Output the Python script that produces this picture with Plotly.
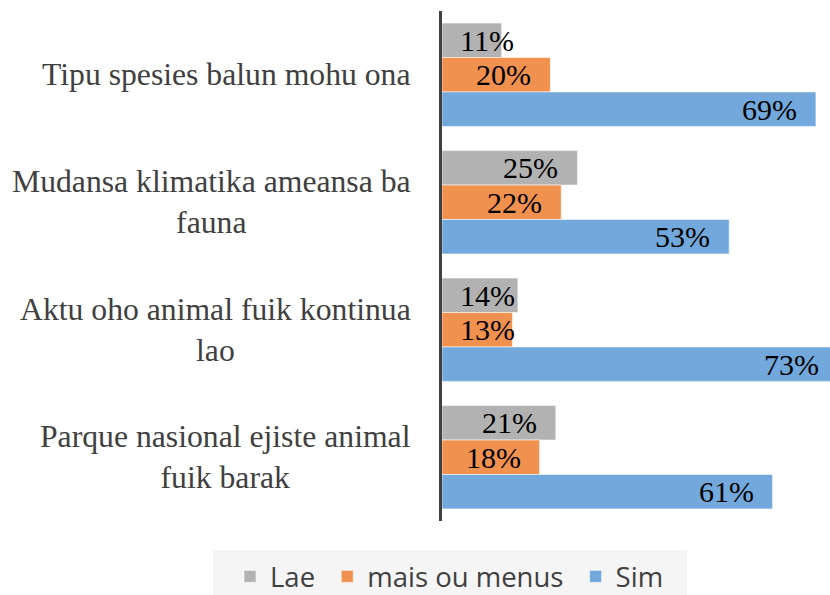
import plotly.graph_objects as go

categories = [
    "Tipu spesies balun mohu ona",
    "Mudansa klimatika ameansa ba<br>fauna",
    "Aktu oho animal fuik kontinua<br>lao",
    "Parque nasional ejiste animal<br>fuik barak",
]
series_names = ["Lae", "mais ou menus", "Sim"]
lae = [11, 25, 14, 21]
mais_ou_menus = [20, 22, 13, 18]
sim = [69, 53, 73, 61]

colors = ["#B2B2B2", "#F0914F", "#72A8DB"]
serif = "Liberation Serif, Times New Roman, serif"

bargap = 0.19
x_max = 71.6
plot_l = 442
plot_w = 388
plot_h = 510
px_per_unit = plot_w / x_max

fig = go.Figure()
for name, vals, col in zip(series_names, [lae, mais_ou_menus, sim], colors):
    fig.add_trace(go.Bar(
        name=name + "\u00a0", y=categories, x=vals, orientation="h",
        marker=dict(color=col, line=dict(color="rgba(255,255,255,0.55)", width=1)),
        hoverinfo="skip",
    ))

annotations = []
# category labels, centered lines like the original
for c in categories:
    annotations.append(dict(
        x=0, xref="paper", y=c, yref="y", xanchor="right", xshift=-29,
        text=c, showarrow=False, align="center",
        font=dict(family=serif, size=31.7, color="#404040"),
    ))

# data labels at the inside end of each bar (bar 73% runs past the edge)
bar_w = (1 - bargap) / 3
label_w = 54
for k, vals in enumerate([lae, mais_ou_menus, sim]):
    for i, v in enumerate(vals):
        y = i + (k - 1) * bar_w
        end_px = v * px_per_unit
        if end_px - 19 - label_w < 17:
            xa, xs, xv = "left", 16, 0
        else:
            xv = min(v, x_max)
            xa, xs = "right", -17 + (v - xv) * px_per_unit
        annotations.append(dict(
            x=xv, y=y, xref="x", yref="y", xanchor=xa, xshift=xs,
            text=f"{v}%", showarrow=False,
            font=dict(family=serif, size=30, color="#000000"),
        ))

fig.update_layout(
    width=830, height=595,
    margin=dict(l=plot_l, r=0, t=11, b=74, autoexpand=False),
    paper_bgcolor="white", plot_bgcolor="white",
    barmode="group", bargap=bargap, bargroupgap=0,
    showlegend=True,
    legend=dict(
        orientation="h",
        x=(230 - plot_l) / plot_w, xanchor="left",
        y=-31 / plot_h, yanchor="top",
        font=dict(family="Open Sans", size=27.5, color="#404040"),
        bgcolor="rgba(0,0,0,0)", traceorder="normal",
    ),
    # legend background box
    shapes=[dict(
        type="rect", xref="paper", yref="paper", layer="below",
        x0=(213 - plot_l) / plot_w, x1=(687 - plot_l) / plot_w,
        y0=-29 / plot_h, y1=-80 / plot_h,
        fillcolor="#f5f5f5", line=dict(width=0),
    )],
    annotations=annotations,
)
fig.update_xaxes(range=[0, x_max], showgrid=False, zeroline=False,
                 showticklabels=False, showline=False)
fig.update_yaxes(autorange="reversed", showgrid=False, zeroline=False,
                 showticklabels=False, showline=True, linewidth=3,
                 linecolor="#404040", ticks="")

fig.write_html("out.html", config={"displayModeBar": False},
               post_script="document.body.style.margin='0';")
